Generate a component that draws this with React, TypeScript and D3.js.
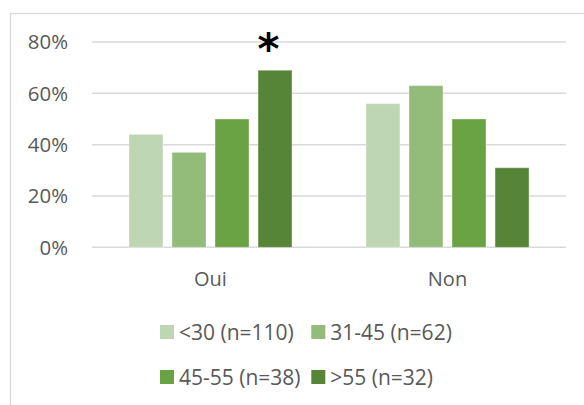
import React from "react";
import * as d3 from "d3";

const categories = ["Oui", "Non"];
const seriesNames = ["<30 (n=110)", "31-45 (n=62)", "45-55 (n=38)", ">55 (n=32)"];
const seriesColors = ["#bfd6b3", "#93bc7b", "#6aa343", "#568538"];
const valuesU30 = [0.44, 0.56];
const values31_45 = [0.37, 0.63];
const values45_55 = [0.50, 0.50];
const valuesO55 = [0.69, 0.31];
const yTicks = [0, 0.2, 0.4, 0.6, 0.8];
const significance = [{ category: "Oui", series: 3, label: "*" }];

const seriesValues = [valuesU30, values31_45, values45_55, valuesO55];

const W = 584;
const H = 405;
const plotLeft = 92;
const plotRight = 566;
const plotTop = 42;
const plotBottom = 247.3;
const FONT = "'Open Sans', 'Noto Sans', sans-serif";
const TEXT = "#595959";
const GRID = "#d9d9d9";

export default function App() {
  const x0 = d3
    .scaleBand<string>()
    .domain(categories)
    .range([plotLeft, plotRight])
    .paddingInner(0.312)
    .paddingOuter(0.156);
  const x1 = d3
    .scaleBand<number>()
    .domain(d3.range(seriesNames.length))
    .range([0, x0.bandwidth()])
    .paddingInner(0.21)
    .paddingOuter(0);
  const y = d3.scaleLinear().domain([0, 0.8]).range([plotBottom, plotTop]);
  const fmt = d3.format(".0%");

  const legendRows = [
    [0, 1],
    [2, 3],
  ];
  const legendColX = [160, 311.3];
  const legendRowY = [325, 370];

  return (
    <svg
      width={W}
      height={H}
      style={{ position: "absolute", left: 0, top: 0, background: "#fff" }}
    >
      <rect x={0} y={0} width={W} height={H} fill="#fff" />
      <rect
        x={10.5}
        y={13.5}
        width={W + 20}
        height={H + 20}
        fill="none"
        stroke={GRID}
        strokeWidth={1.3}
      />
      {yTicks.map((t) => (
        <g key={t}>
          <line
            x1={plotLeft}
            x2={plotRight}
            y1={y(t)}
            y2={y(t)}
            stroke={GRID}
            strokeWidth={1.5}
          />
          <text
            x={68}
            y={y(t)}
            dy="0.36em"
            textAnchor="end"
            fontFamily={FONT}
            fontSize={20.4}
            fill={TEXT}
          >
            {fmt(t)}
          </text>
        </g>
      ))}
      {categories.map((c, ci) => (
        <g key={c} transform={`translate(${x0(c)},0)`}>
          {seriesValues.map((vals, si) => (
            <rect
              key={si}
              x={x1(si)}
              y={y(vals[ci])}
              width={x1.bandwidth()}
              height={y(0) - y(vals[ci])}
              fill={seriesColors[si]}
              stroke="#ffffff"
              strokeOpacity={0.35}
              strokeWidth={1}
            />
          ))}
          <text
            x={x0.bandwidth() / 2}
            y={285.5}
            textAnchor="middle"
            fontFamily={FONT}
            fontSize={20}
            fill={TEXT}
          >
            {c}
          </text>
        </g>
      ))}
      {significance.map((s, i) => {
        const ci = categories.indexOf(s.category);
        const v = seriesValues[s.series][ci];
        const cx = (x0(s.category) as number) + (x1(s.series) as number) + x1.bandwidth() / 2 - 6.5;
        return (
          <text
            key={i}
            x={cx}
            y={y(v) - 6}
            textAnchor="middle"
            fontFamily="'DejaVu Sans', sans-serif"
            fontWeight="bold"
            fontSize={42}
            fill="#000"
          >
            {s.label}
          </text>
        );
      })}
      {legendRows.map((row, ri) =>
        row.map((si, k) => (
          <g key={si} transform={`translate(${legendColX[k]},${legendRowY[ri]})`}>
            <rect width={14} height={14} fill={seriesColors[si]} />
            <text
              x={19}
              y={7}
              dy="0.36em"
              fontFamily={FONT}
              fontSize={21}
              fill={TEXT}
            >
              {seriesNames[si]}
            </text>
          </g>
        ))
      )}
    </svg>
  );
}
